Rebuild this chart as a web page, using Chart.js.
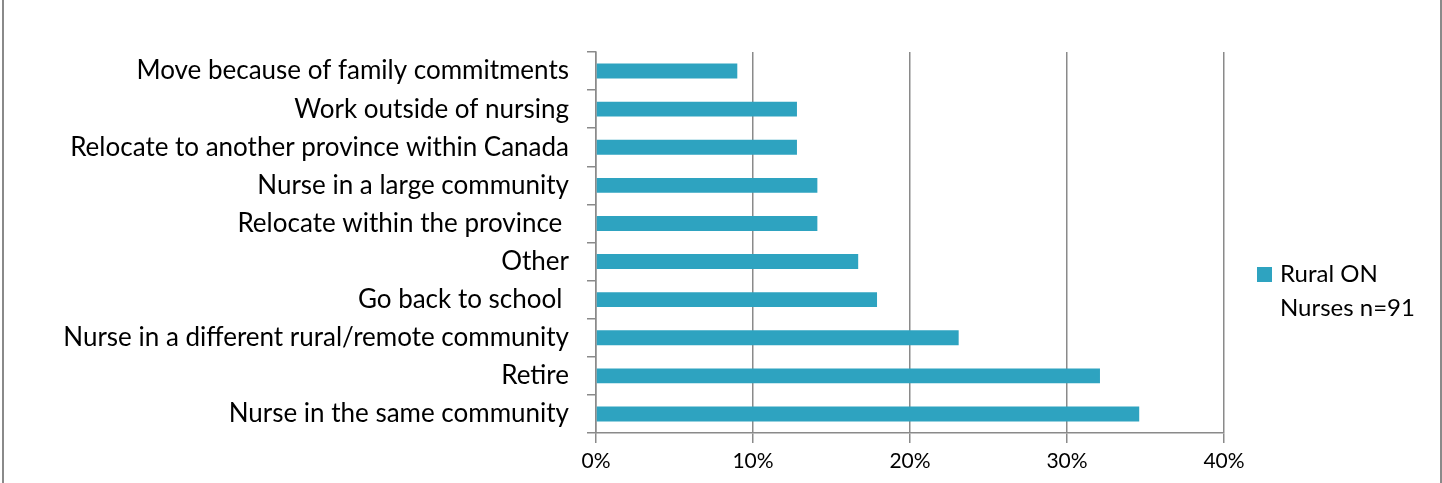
<!DOCTYPE html>
<html>
<head>
<meta charset="utf-8">
<script src="https://cdn.jsdelivr.net/npm/chart.js@4/dist/chart.umd.min.js"></script>
<style>
  html, body { margin: 0; padding: 0; background: #fff; }
  #wrap { position: relative; width: 1442px; height: 483px; overflow: hidden; }
  #frame {
    position: absolute; left: 2px; top: 0; width: 1436px; height: 483px;
    border-left: 2px solid #8a8a8a; border-right: 2px solid #8a8a8a;
    pointer-events: none;
  }
  #legend { position: absolute; left: 1257px; top: 256px; font-family: Lato, sans-serif; font-size: 24px; line-height: 34px; color: #000; }
  #legend .box { position: absolute; left: 0; top: 11px; width: 15px; height: 15px; }
  #legend .text { margin-left: 23px; white-space: nowrap; }
</style>
</head>
<body>
<div id="wrap">
  <canvas id="chart" width="1442" height="483"></canvas>
  <div id="legend"><span class="box"></span><div class="text"></div></div>
  <div id="frame"></div>
</div>
<script>
// Answers, top to bottom
const categories = [
  'Move because of family commitments',
  'Work outside of nursing',
  'Relocate to another province within Canada',
  'Nurse in a large community',
  'Relocate within the province ',
  'Other',
  'Go back to school ',
  'Nurse in a different rural/remote community',
  'Retire',
  'Nurse in the same community'
];
// percent of respondents
const shares = [9.0, 12.8, 12.8, 14.1, 14.1, 16.7, 17.9, 23.1, 32.1, 34.6];
const xTicks = [0, 10, 20, 30, 40];
const seriesLines = ['Rural ON', 'Nurses n=91'];

const barColor = '#2ea3c0';
const axisGray = '#8a8a8a';

// legend sits to the right of the plot
const legend = document.getElementById('legend');
legend.querySelector('.box').style.background = barColor;
legend.querySelector('.text').innerHTML = seriesLines.join('<br>');

const ctx = document.getElementById('chart').getContext('2d');
new Chart(ctx, {
  type: 'bar',
  data: {
    labels: categories,
    datasets: [{
      label: seriesLines.join(' '),
      data: shares,
      backgroundColor: barColor,
      borderWidth: 0,
      categoryPercentage: 1,
      barPercentage: 0.39
    }]
  },
  options: {
    indexAxis: 'y',
    responsive: false,
    animation: false,
    layout: { padding: { top: 52, right: 218, bottom: 0, left: 0 } },
    plugins: {
      legend: { display: false },
      tooltip: { enabled: false }
    },
    scales: {
      x: {
        min: xTicks[0],
        max: xTicks[xTicks.length - 1],
        afterBuildTicks: scale => { scale.ticks = xTicks.map(v => ({ value: v })); },
        ticks: {
          callback: v => v + '%',
          color: '#000',
          font: { family: 'Lato', size: 21 },
          padding: 6
        },
        grid: { color: axisGray, lineWidth: 1.5, tickLength: 10 },
        border: { color: axisGray, width: 1.5 },
        afterFit: scale => { scale.height = 50; }
      },
      y: {
        ticks: {
          color: '#000',
          font: { family: 'Lato', size: 26 },
          padding: 18,
          autoSkip: false
        },
        grid: { drawOnChartArea: false, offset: true, tickLength: 9, color: axisGray, lineWidth: 1.5 },
        border: { color: axisGray, width: 1.5 },
        afterFit: scale => { scale.width = 596; }
      }
    }
  }
});
</script>
</body>
</html>
